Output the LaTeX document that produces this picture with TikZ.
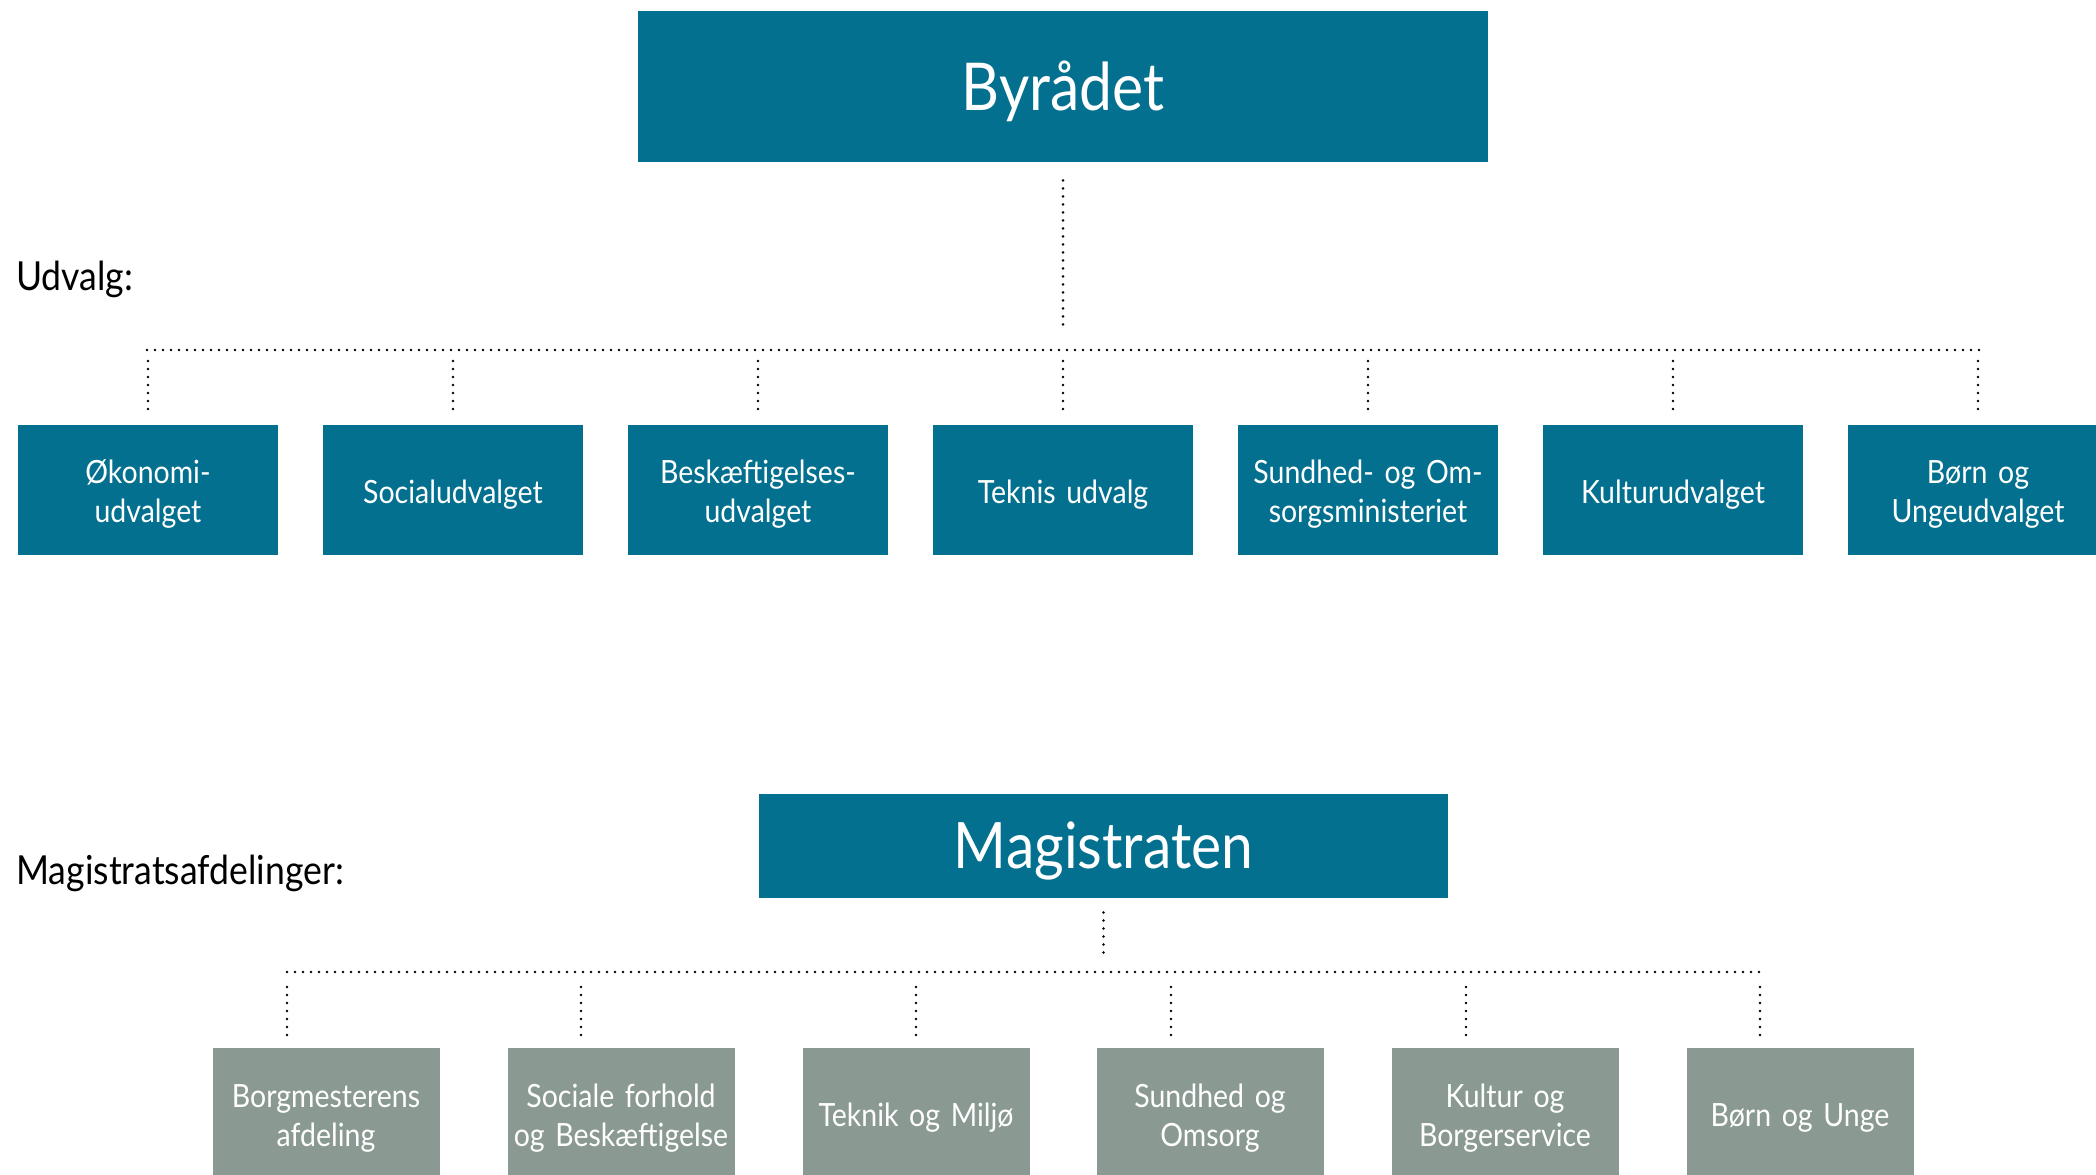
\documentclass[tikz,border=0pt]{standalone}
\usepackage{fontspec}
\setmainfont{Lato}[FakeStretch=0.89]
\usetikzlibrary{positioning}

\definecolor{petrol}{RGB}{2,112,142}
\definecolor{sage}{RGB}{138,154,146}

\tikzset{
    topstrut/.style={execute at begin node={\rule{0pt}{#1}}},
    unitbox/.style={fill=#1, text=white, inner sep=0pt, align=center},
    bigbox/.style={unitbox=petrol, font=\fontsize{33}{40}\selectfont},
    udvbox/.style={unitbox=petrol, minimum width=130pt, minimum height=65pt, text width=126pt,
        font=\fontsize{16}{19.5}\selectfont, topstrut=16pt},
    afdbox/.style={unitbox=sage, minimum width=113.5pt, minimum height=67pt, text width=112pt,
        font=\fontsize{16}{19.5}\selectfont, topstrut=14.5pt},
    heading/.style={anchor=base west, inner sep=0pt, font=\fontsize{20}{24}\selectfont},
    dotline/.style={line width=1.4pt, line cap=round, dash pattern=on 0pt off 4pt}
}

\begin{document}
\begin{tikzpicture}[x=0.5pt, y=-0.5pt]
    \clip (0,0) rectangle (2096,1174);

    % Byraadet og udvalg
    \node[bigbox, minimum width=425pt, minimum height=75.5pt, topstrut=30pt] (byr) at (1063,86.5) {Byrådet};
    \node[heading] (udv) at (16,290) {Udvalg:};

    \coordinate (tl) at (147,350);
    \coordinate (tr) at (1980,350);
    \draw[dotline] (tl) -- (tr);
    \draw[dotline, shorten <=9pt, shorten >=9.5pt] (byr.south) -- (byr.south |- tl);

    \foreach \i/\txt in {1/{Økonomi-\\udvalget}, 2/{Socialudvalget},
        3/{Beskæftigelses-\\udvalget}, 4/{Teknis udvalg},
        5/{Sundhed- og Om-\\sorgsministeriet}, 6/{Kulturudvalget},
        7/{Børn og\\Ungeudvalget}}
    {
        \node[udvbox] (u\i) at ({148+305*(\i-1)},490) {\txt};
        \coordinate (ub\i) at ({148+305*(\i-1)},361);
        \draw[dotline, shorten >=5.5pt] (ub\i) -- (u\i.north);
    }

    % Magistraten og afdelinger
    \node[bigbox, minimum width=344.5pt, minimum height=52pt,
        font=\fontsize{32}{38}\selectfont, topstrut=28pt] (mag) at (1103.5,846) {Magistraten};
    \node[heading] (afd) at (16,884) {Magistratsafdelinger:};

    \coordinate (ml) at (287,972);
    \coordinate (mr) at (1760,972);
    \draw[dotline] (ml) -- (mr);
    \draw[dotline, shorten <=7pt, shorten >=6pt] (mag.south) -- (mag.south |- ml);

    \foreach \i/\x/\dx/\txt in {1/326/287/{Borgmesterens\\afdeling},
        2/621/581/{Sociale forhold\\og Beskæftigelse}, 3/916/916/{Teknik og Miljø},
        4/1210/1171/{Sundhed og\\Omsorg}, 5/1505/1466/{Kultur og\\Borgerservice},
        6/1800/1760/{Børn og Unge}}
    {
        \node[afdbox] (m\i) at (\x,1115) {\txt};
        \coordinate (mb\i) at (\dx,987);
        \draw[dotline, shorten >=5.5pt] (mb\i) -- (mb\i |- m\i.north);
    }
\end{tikzpicture}
\end{document}
